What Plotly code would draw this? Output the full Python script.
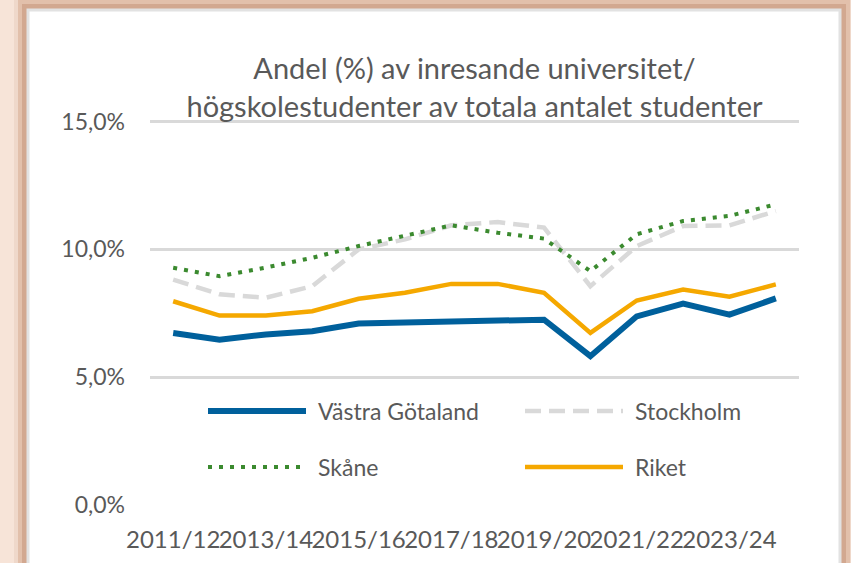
import plotly.graph_objects as go

# categories (school years)
years = ["2011/12", "2012/13", "2013/14", "2014/15", "2015/16", "2016/17", "2017/18",
         "2018/19", "2019/20", "2020/21", "2021/22", "2022/23", "2023/24", "2024/25"]

# share (%) of incoming university students
vastra_gotaland = [6.73, 6.47, 6.67, 6.80, 7.10, 7.15, 7.18, 7.22, 7.25, 5.82, 7.38, 7.88, 7.45, 8.08]
stockholm = [8.82, 8.24, 8.11, 8.56, 10.00, 10.39, 10.94, 11.07, 10.85, 8.56, 10.13, 10.91, 10.94, 11.50]
skane = [9.28, 8.95, 9.29, 9.67, 10.13, 10.52, 10.94, 10.65, 10.42, 9.15, 10.59, 11.11, 11.31, 11.76]
riket = [7.97, 7.41, 7.41, 7.58, 8.07, 8.30, 8.65, 8.65, 8.30, 6.73, 8.00, 8.43, 8.15, 8.63]

names = ["Västra Götaland", "Stockholm", "Skåne", "Riket"]
series = [vastra_gotaland, stockholm, skane, riket]
colors = ["#00609c", "#d9d9d9", "#3b8a2f", "#f5a800"]
widths = [6, 4.5, 4, 4.5]
dashes = ["solid", "16px,8px", "4px,7px", "solid"]

tick_years = years[::2]
y_ticks = [0, 5, 10, 15]
y_labels = [f"{v:.1f}%".replace(".", ",") for v in y_ticks]
y_max = 15.1  # a bit above 15 so the top gridline is drawn

txt = "#595959"
font = "Lato"

# plot area in pixels (0 % at B, 15 % at 122)
L, R, B = 150, 799, 505
T = round(B - (B - 122) * y_max / 15)


def px_x(p):
    return (p - L) / (R - L)


def px_y(p):
    return (B - p) / (B - T)


fig = go.Figure()
for name, vals, c, w, d in zip(names, series, colors, widths, dashes):
    fig.add_trace(go.Scatter(x=years, y=vals, name=name, mode="lines",
                             line=dict(color=c, width=w, dash=d)))

# panel + soft shadow
shapes = []
for pad, col in [(14, "#efd8ca"), (10, "#e2c0ab"), (6, "#d2a890")]:
    shapes.append(dict(type="rect", xref="paper", yref="paper", layer="below",
                       x0=px_x(28 - pad), x1=px_x(840 + pad), y0=px_y(600), y1=px_y(10 - pad),
                       fillcolor=col, line=dict(width=0)))
shapes.append(dict(type="rect", xref="paper", yref="paper", layer="below",
                   x0=px_x(28), x1=px_x(840), y0=px_y(600), y1=px_y(10),
                   fillcolor="white", line=dict(color="#e2e2e2", width=3)))

# legend drawn by hand (longer keys than the built-in legend)
leg_pos = [(208, 411), (525, 411), (208, 467), (525, 467)]
annotations = []
for (lx, ly), name, c, w, d in zip(leg_pos, names, colors, widths, dashes):
    shapes.append(dict(type="line", xref="paper", yref="paper",
                       x0=px_x(lx), x1=px_x(lx + 98), y0=px_y(ly), y1=px_y(ly),
                       line=dict(color=c, width=w, dash=d)))
    annotations.append(dict(xref="paper", yref="paper", x=px_x(lx + 108), y=px_y(ly),
                            text=name, showarrow=False, xanchor="left", yanchor="middle",
                            font=dict(family=font, size=23, color=txt)))

fig.update_layout(
    width=851, height=563,
    margin=dict(l=L, r=851 - R, t=T, b=563 - B),
    paper_bgcolor="#f7e4d8",
    plot_bgcolor="rgba(0,0,0,0)",
    showlegend=False,
    title=dict(text="Andel (%) av inresande universitet/<br>högskolestudenter av totala antalet studenter",
               x=0.5, xref="paper", xanchor="center", y=1 - 79 / 563, yanchor="middle",
               font=dict(family=font, size=29, color=txt)),
    xaxis=dict(type="category", range=[-0.5, 13.5], showgrid=False, showline=False,
               tickmode="array", tickvals=tick_years, ticktext=tick_years, ticks="",
               tickangle=0, automargin=False, ticklabelstandoff=18,
               tickfont=dict(family=font, size=24, color=txt)),
    yaxis=dict(range=[0, y_max], tickmode="array", tickvals=y_ticks, ticktext=y_labels,
               showgrid=True, gridcolor="#d9d9d9", gridwidth=2.5, zeroline=False,
               ticks="", ticklabelstandoff=24, automargin=False,
               tickfont=dict(family=font, size=23, color=txt)),
    shapes=shapes,
    annotations=annotations,
)

fig.write_html("out.html", config={"displayModeBar": False},
               post_script="document.body.style.margin='0';")
